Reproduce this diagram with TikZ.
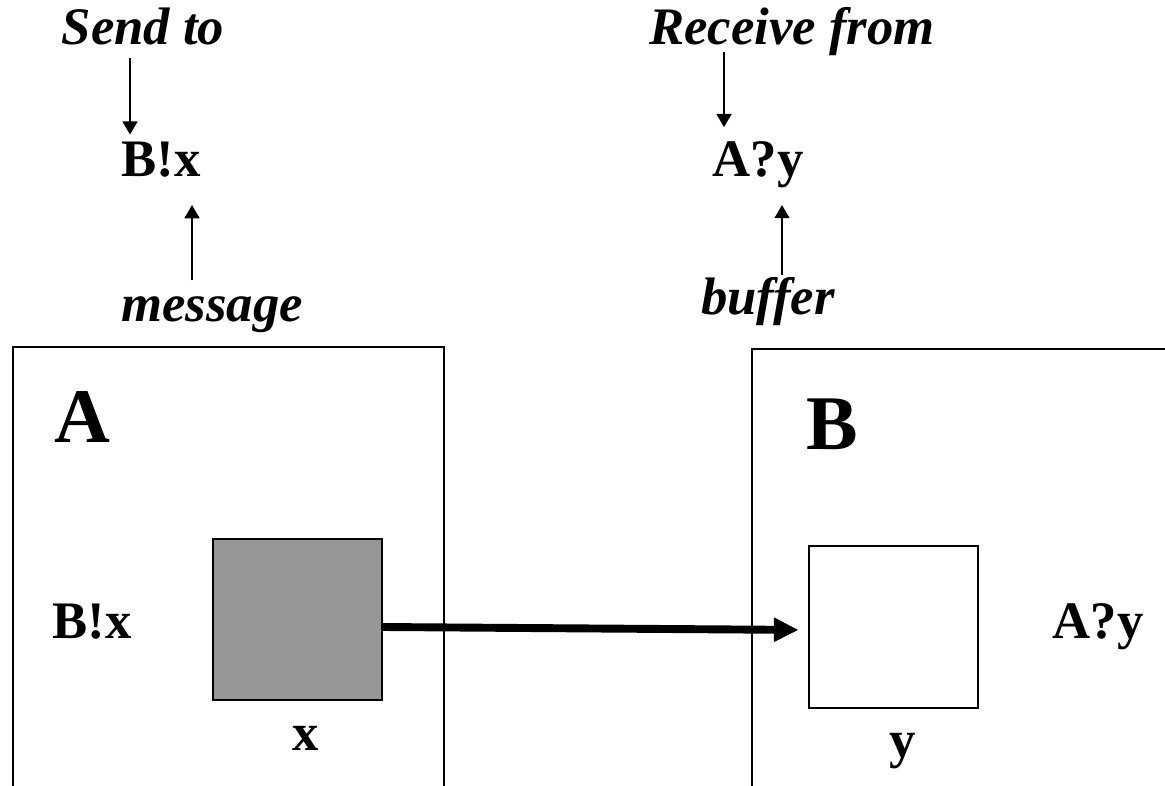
\documentclass[tikz,border=0pt]{standalone}
\usepackage{fontspec}
\setmainfont{Liberation Serif}
\usetikzlibrary{arrows.meta}

\begin{document}
\begin{tikzpicture}[x=0.02cm, y=-0.02cm, line width=1pt,
    lbl/.style = {inner sep=0pt, anchor=base, font=\fontsize{30}{36}\selectfont\bfseries},
    note/.style = {lbl, font=\fontsize{30}{36}\selectfont\bfseries\itshape},
    proc/.style = {inner sep=0pt, anchor=base, font=\fontsize{44}{52}\selectfont\bfseries},
    buf/.style = {draw, inner sep=0pt, minimum width=3.38cm, minimum height=3.22cm},
    ptr/.style = {-{Triangle[length=7.5pt,width=8.5pt]}},
    msg/.style = {line width=4.5pt, -{Triangle[length=14pt,width=13pt]}}]
    \useasboundingbox (0,0) rectangle (1165,786);
    % processes
    \draw (13,790) -- (13,347) -- (444,347) -- (444,790);
    \draw (752,790) -- (752,349) -- (1170,349);
    \node[proc] (pa) at (82,443) {A};
    \node[proc] (pb) at (832,450) {B};
    % buffers
    \node[buf, fill={rgb,255:red,150;green,150;blue,150}] (bufx) at (297.5,619.5) {};
    \node[buf, minimum height=3.24cm] (bufy) at (893.5,627) {};
    \node[lbl] (x) at (306,750) {x};
    \node[lbl] (y) at (903,757) {y};
    \node[lbl] (bx2) at (92,638) {B!x};
    \node[lbl] (ay2) at (1098,638) {A?y};
    \draw[msg, shorten >=5.5pt] (bufx.east |- 0,627) -- (bufy.west |- 0,630);
    % send / receive
    \node[note] (sendto) at (143,45) {Send to};
    \node[lbl] (bx1) at (161,177) {B!x};
    \node[note] (message) at (212,322) {message};
    \node[note] (recv) at (792,45) {Receive from};
    \node[lbl] (ay1) at (758,177) {A?y};
    \node[note] (buffer) at (768,315) {buffer};
    \draw[ptr, shorten <=7.4pt, shorten >=4pt] (sendto.base -| 130,0) -- (bx1.north -| 130,0);
    \draw[ptr, shorten <=9pt, shorten >=16pt] (message.north -| 192,0) -- (bx1.base -| 192,0);
    \draw[ptr, shorten <=4pt, shorten >=8pt] (recv.base -| 724,0) -- (ay1.north -| 724,0);
    \draw[ptr, shorten <=1pt, shorten >=9pt] (buffer.north -| 782,0) -- (ay1.south -| 782,0);
\end{tikzpicture}
\end{document}
